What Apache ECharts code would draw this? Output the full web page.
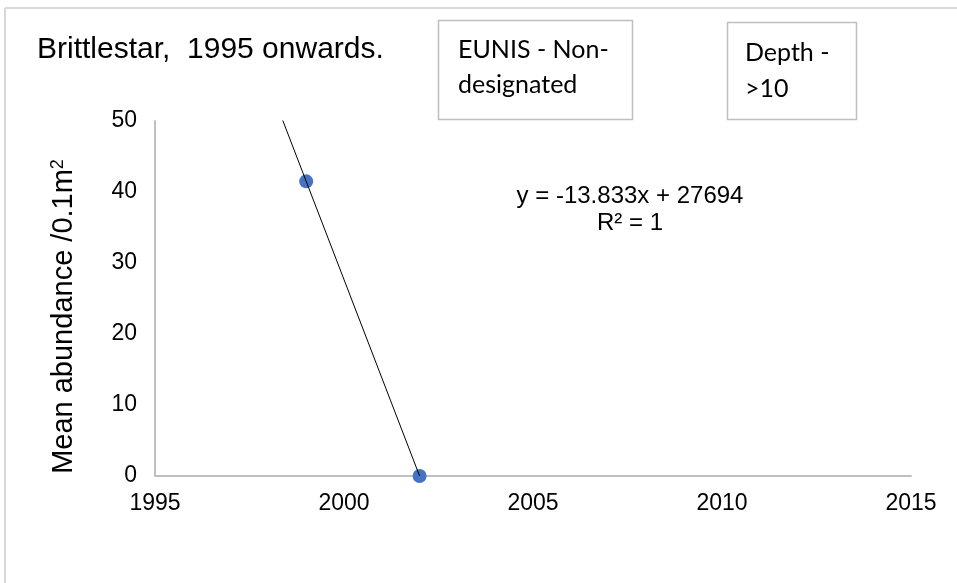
<!DOCTYPE html>
<html>
<head>
<meta charset="utf-8">
<script src="https://cdn.jsdelivr.net/npm/echarts@6/dist/echarts.min.js"></script>
<style>html,body{margin:0;padding:0;background:#fff;}#c{width:957px;height:583px;}</style>
</head>
<body>
<div id="c"></div>
<script>
var years = [1999, 2002];
var abundance = [41.5, 0];
var xTicks = [1995, 2000, 2005, 2010, 2015];
var yTicks = [0, 10, 20, 30, 40, 50];
var trendStart = 1998; // backward forecast start
var trendEquation = 'y = -13.833x + 27694';
var trendR2 = 'R² = 1';
var titleText = 'Brittlestar,  1995 onwards.';
var box1Lines = ['EUNIS - Non-', 'designated'];
var box2Lines = ['Depth -', '>10'];

// least-squares trend through the points (same as Excel's linear trendline)
var n = years.length, sx = 0, sy = 0, sxy = 0, sxx = 0;
for (var i = 0; i < n; i++) { sx += years[i]; sy += abundance[i]; sxy += years[i]*abundance[i]; sxx += years[i]*years[i]; }
var b = (n*sxy - sx*sy) / (n*sxx - sx*sx);
var a = (sy - b*sx) / n;
var trendX = [trendStart, years[n-1]];
var trendData = trendX.map(function (x) { return [x, a + b*x]; });

var chart = echarts.init(document.getElementById('c'), null, {renderer: 'canvas'});
var axisFont = '"Liberation Sans", Arial, sans-serif';
var boxFont = 'Lato, "Noto Sans", sans-serif';
chart.setOption({
  animation: false,
  backgroundColor: '#fff',
  grid: {left: 155, right: 46, top: 121, bottom: 107, containLabel: false},
  xAxis: {
    type: 'value', min: xTicks[0], max: xTicks[xTicks.length-1], interval: 5,
    axisLine: {show: true, onZero: false, lineStyle: {color: '#c0c0c0', width: 2}},
    axisTick: {show: false},
    splitLine: {show: false},
    axisLabel: {color: '#000', fontSize: 23, fontFamily: axisFont, margin: 16, formatter: function (v) { return String(v); }}
  },
  yAxis: {
    type: 'value', min: yTicks[0], max: yTicks[yTicks.length-1], interval: 10,
    axisLine: {show: true, lineStyle: {color: '#c0c0c0', width: 2}},
    axisTick: {show: false},
    splitLine: {show: false},
    axisLabel: {color: '#000', fontSize: 23, fontFamily: axisFont, margin: 18},
    name: '{n|Mean abundance /0.1m}{s|2}',
    nameLocation: 'middle', nameGap: 76, nameRotate: 90,
    nameTextStyle: {
      padding: [0, 36, 0, 0],
      rich: {
        n: {fontSize: 29, fontFamily: axisFont, color: '#000'},
        s: {fontSize: 18, fontFamily: axisFont, color: '#000', verticalAlign: 'top', padding: [0,0,12,0]}
      }
    }
  },
  series: [
    {
      type: 'line', data: trendData, symbol: 'none', clip: true, silent: true,
      lineStyle: {color: '#000', width: 1}, z: 3
    },
    {
      type: 'scatter', data: years.map(function (y, i) { return [y, abundance[i]]; }),
      symbol: 'circle', symbolSize: 14, itemStyle: {color: '#4472C4', opacity: 1}, z: 2
    }
  ],
  graphic: [
    {type: 'line', shape: {x1: 5, y1: 8, x2: 957, y2: 8}, style: {stroke: '#d9d9d9', lineWidth: 2}},
    {type: 'line', shape: {x1: 5, y1: 8, x2: 5, y2: 583}, style: {stroke: '#d9d9d9', lineWidth: 2}},
    {type: 'text', x: 37, y: 50, style: {text: titleText, font: '30px ' + axisFont, fill: '#000', verticalAlign: 'middle'}},
    {type: 'rect', shape: {x: 438.5, y: 20.5, width: 194, height: 99}, style: {fill: '#fff', stroke: '#bfbfbf', lineWidth: 1.5}},
    {type: 'text', x: 458, y: 32, style: {text: box1Lines.join('\n'), font: '25px ' + boxFont, fill: '#000', lineHeight: 35}},
    {type: 'rect', shape: {x: 727.5, y: 22.5, width: 129, height: 97}, style: {fill: '#fff', stroke: '#bfbfbf', lineWidth: 1.5}},
    {type: 'text', x: 745, y: 35, style: {text: box2Lines.join('\n'), font: '25px ' + boxFont, fill: '#000', lineHeight: 36}},
    {type: 'text', x: 630, y: 196, style: {text: trendEquation, font: '24px ' + axisFont, fill: '#000', align: 'center', verticalAlign: 'middle'}},
    {type: 'text', x: 630, y: 223, style: {text: trendR2, font: '24px ' + axisFont, fill: '#000', align: 'center', verticalAlign: 'middle'}}
  ]
});
</script>
</body>
</html>
